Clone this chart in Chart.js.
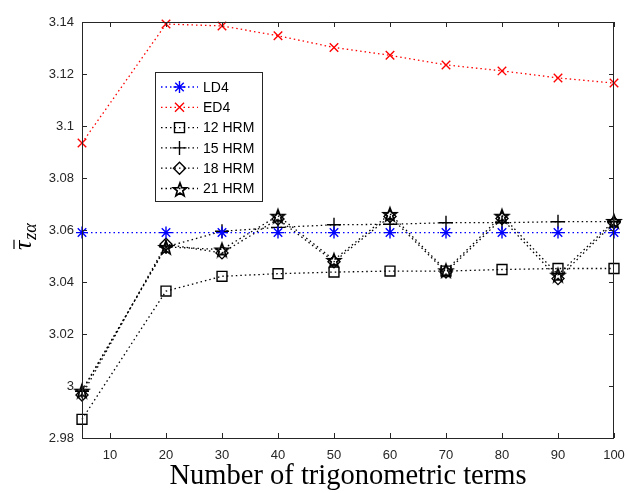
<!DOCTYPE html>
<html>
<head>
<meta charset="utf-8">
<style>
  html, body { margin: 0; padding: 0; background: #fff; }
</style>
</head>
<body>
<canvas id="tauChart" width="628" height="493"></canvas>
<script src="https://cdn.jsdelivr.net/npm/chart.js@4"></script>
<script>
    // x positions (number of trigonometric terms) and tick values
    const terms = [5, 20, 30, 40, 50, 60, 70, 80, 90, 100];
    const xTicks = [10, 20, 30, 40, 50, 60, 70, 80, 90, 100];
    const yTicks = [2.98, 3.00, 3.02, 3.04, 3.06, 3.08, 3.10, 3.12, 3.14];

    // series values
    const ld4   = [3.059, 3.059, 3.059, 3.059, 3.059, 3.059, 3.059, 3.059, 3.059, 3.059];
    const ed4   = [3.0935, 3.1392, 3.1385, 3.1347, 3.1302, 3.1272, 3.1235, 3.1212, 3.1185, 3.1165];
    const hrm12 = [2.9872, 3.0365, 3.0422, 3.0432, 3.0438, 3.0442, 3.0442, 3.0448, 3.0452, 3.0452];
    const hrm15 = [2.998, 3.0535, 3.0595, 3.061, 3.062, 3.0622, 3.0628, 3.0628, 3.0632, 3.0632];
    const hrm18 = [2.9965, 3.0545, 3.0512, 3.0642, 3.0478, 3.0652, 3.0438, 3.0644, 3.0413, 3.0628];
    const hrm21 = [2.9982, 3.0535, 3.0525, 3.0655, 3.0485, 3.0662, 3.0445, 3.0655, 3.0428, 3.0635];

    const seriesNames = ['LD4', 'ED4', '12 HRM', '15 HRM', '18 HRM', '21 HRM'];

    // MATLAB-like pentagram marker, built once as a small canvas
    function pentagram(r, color) {
        const c = document.createElement('canvas');
        const s = 2 * Math.ceil(r + 2);
        c.width = s; c.height = s;
        const g = c.getContext('2d');
        g.beginPath();
        for (let i = 0; i < 10; i++) {
            const rr = i % 2 === 0 ? r : r * 0.42;
            const a = -Math.PI / 2 + i * Math.PI / 5;
            const px = s / 2 + rr * Math.cos(a), py = s / 2 + 1 + rr * Math.sin(a);
            if (i === 0) g.moveTo(px, py); else g.lineTo(px, py);
        }
        g.closePath();
        g.strokeStyle = color;
        g.lineWidth = 1.7;
        g.lineJoin = 'miter';
        g.stroke();
        return c;
    }
    const starImg = pentagram(7, '#000');

    const dash = [1.5, 3];
    function series(label, data, color, style, radius) {
        return {
            label: label,
            data: terms.map((t, i) => ({ x: t, y: data[i] })),
            borderColor: color,
            borderWidth: 1.3,
            borderDash: dash,
            pointStyle: style,
            pointRadius: radius,
            pointBorderColor: color,
            pointBackgroundColor: 'rgba(0,0,0,0)',
            pointBorderWidth: 1.4,
            fill: false,
            tension: 0,
            clip: false
        };
    }

    const datasets = [
        series('LD4', ld4, '#0000ff', 'star', 6),
        series('ED4', ed4, '#ff0000', 'crossRot', 6),
        series('12 HRM', hrm12, '#000', 'rect', 7),
        series('15 HRM', hrm15, '#000', 'cross', 7),
        series('18 HRM', hrm18, '#000', 'rectRot', 6),
        series('21 HRM', hrm21, '#000', starImg, 7)
    ];

    // draw a legend sample marker by hand
    function legendMarker(ctx, style, x, y, color) {
        ctx.save();
        ctx.strokeStyle = color;
        ctx.lineWidth = 1.4;
        ctx.setLineDash([]);
        ctx.beginPath();
        if (style === 'star') {
            for (let k = 0; k < 4; k++) {
                const a = k * Math.PI / 4;
                ctx.moveTo(x - 6 * Math.cos(a), y - 6 * Math.sin(a));
                ctx.lineTo(x + 6 * Math.cos(a), y + 6 * Math.sin(a));
            }
        } else if (style === 'crossRot') {
            ctx.moveTo(x - 4.5, y - 4.5); ctx.lineTo(x + 4.5, y + 4.5);
            ctx.moveTo(x + 4.5, y - 4.5); ctx.lineTo(x - 4.5, y + 4.5);
        } else if (style === 'rect') {
            ctx.rect(x - 5, y - 5, 10, 10);
        } else if (style === 'cross') {
            ctx.moveTo(x - 7, y); ctx.lineTo(x + 7, y);
            ctx.moveTo(x, y - 7); ctx.lineTo(x, y + 7);
        } else if (style === 'rectRot') {
            ctx.moveTo(x - 6, y); ctx.lineTo(x, y - 6); ctx.lineTo(x + 6, y); ctx.lineTo(x, y + 6); ctx.closePath();
        }
        ctx.stroke();
        if (typeof style !== 'string') ctx.drawImage(style, Math.round(x - style.width / 2), Math.round(y - style.height / 2));
        ctx.restore();
    }

    const framePlugin = {
        id: 'frame',
        afterDatasetsDraw(chart) {
            const ctx = chart.ctx;
            const a = chart.chartArea;
            const xs = chart.scales.x, ys = chart.scales.y;
            ctx.save();
            // box with inward ticks on all four sides
            ctx.strokeStyle = '#262626';
            ctx.lineWidth = 1;
            ctx.strokeRect(a.left + 0.5, a.top + 0.5, a.right - a.left - 1, a.bottom - a.top);
            ctx.beginPath();
            xTicks.forEach(v => {
                const px = Math.round(xs.getPixelForValue(v)) + 0.5;
                ctx.moveTo(px, a.bottom); ctx.lineTo(px, a.bottom - 5);
                ctx.moveTo(px, a.top); ctx.lineTo(px, a.top + 5);
            });
            yTicks.forEach(v => {
                const py = Math.round(ys.getPixelForValue(v)) + 0.5;
                ctx.moveTo(a.left, py); ctx.lineTo(a.left + 5, py);
                ctx.moveTo(a.right, py); ctx.lineTo(a.right - 5, py);
            });
            ctx.stroke();

            // legend box
            const lx = 155, ly = 72, lw = 107, lh = 129;
            ctx.fillStyle = '#fff';
            ctx.fillRect(lx, ly, lw, lh);
            ctx.strokeStyle = '#262626';
            ctx.strokeRect(lx + 0.5, ly + 0.5, lw, lh);
            ctx.font = '14px "Liberation Sans", Arial, sans-serif';
            ctx.textBaseline = 'middle';
            ctx.textAlign = 'left';
            datasets.forEach((ds, i) => {
                const y = 87 + i * 20.3;
                ctx.strokeStyle = ds.borderColor;
                ctx.lineWidth = 1.3;
                ctx.setLineDash(dash);
                ctx.beginPath();
                ctx.moveTo(161, y); ctx.lineTo(198, y);
                ctx.stroke();
                ctx.setLineDash([]);
                legendMarker(ctx, ds.pointStyle, 179.5, y, ds.borderColor);
                ctx.fillStyle = '#000';
                ctx.fillText(seriesNames[i], 203, y + 1);
            });

            // x axis title
            ctx.fillStyle = '#000';
            ctx.font = '28.5px "Liberation Serif", "DejaVu Serif", serif';
            ctx.textAlign = 'center';
            ctx.textBaseline = 'alphabetic';
            ctx.fillText('Number of trigonometric terms', (a.left + a.right) / 2, 484);

            // y axis title: tau bar with subscript z alpha
            ctx.translate(31, 232);
            ctx.rotate(-Math.PI / 2);
            ctx.textAlign = 'left';
            ctx.font = 'italic 26px "Liberation Serif", serif';
            const tw = ctx.measureText('τ').width;
            ctx.fillText('τ', -18, 0);
            ctx.lineWidth = 1.2;
            ctx.strokeStyle = '#000';
            ctx.beginPath();
            ctx.moveTo(-17, -17); ctx.lineTo(-17 + tw, -17);
            ctx.stroke();
            ctx.font = 'italic 18px "Liberation Serif", serif';
            ctx.fillText('zα', -18 + tw + 1, 5);
            ctx.restore();
        }
    };

    const tauCtx = document.getElementById('tauChart').getContext('2d');
    new Chart(tauCtx, {
        type: 'line',
        data: { datasets: datasets },
        options: {
            responsive: false,
            animation: false,
            devicePixelRatio: 1,
            layout: { padding: { left: 0, top: 22, right: 14, bottom: 0 } },
            plugins: {
                legend: { display: false },
                tooltip: { enabled: false }
            },
            scales: {
                x: {
                    type: 'linear',
                    min: 5,
                    max: 100,
                    grid: { display: false, drawTicks: false },
                    border: { display: false },
                    afterBuildTicks: s => { s.ticks = xTicks.map(v => ({ value: v })); },
                    afterFit: s => { s.height = 55; s.paddingLeft = 0; s.paddingRight = 0; },
                    ticks: {
                        padding: 10,
                        color: '#262626',
                        font: { family: '"Liberation Sans", Arial, sans-serif', size: 13 },
                        maxRotation: 0
                    }
                },
                y: {
                    min: 2.98,
                    max: 3.14,
                    grid: { display: false, drawTicks: false },
                    border: { display: false },
                    afterBuildTicks: s => { s.ticks = yTicks.map(v => ({ value: v })); },
                    afterFit: s => { s.width = 82; s.paddingTop = 0; s.paddingBottom = 0; },
                    ticks: {
                        padding: 8,
                        color: '#262626',
                        font: { family: '"Liberation Sans", Arial, sans-serif', size: 13 },
                        callback: v => String(+v.toFixed(2))
                    }
                }
            }
        },
        plugins: [framePlugin]
    });
</script>
</body>
</html>
